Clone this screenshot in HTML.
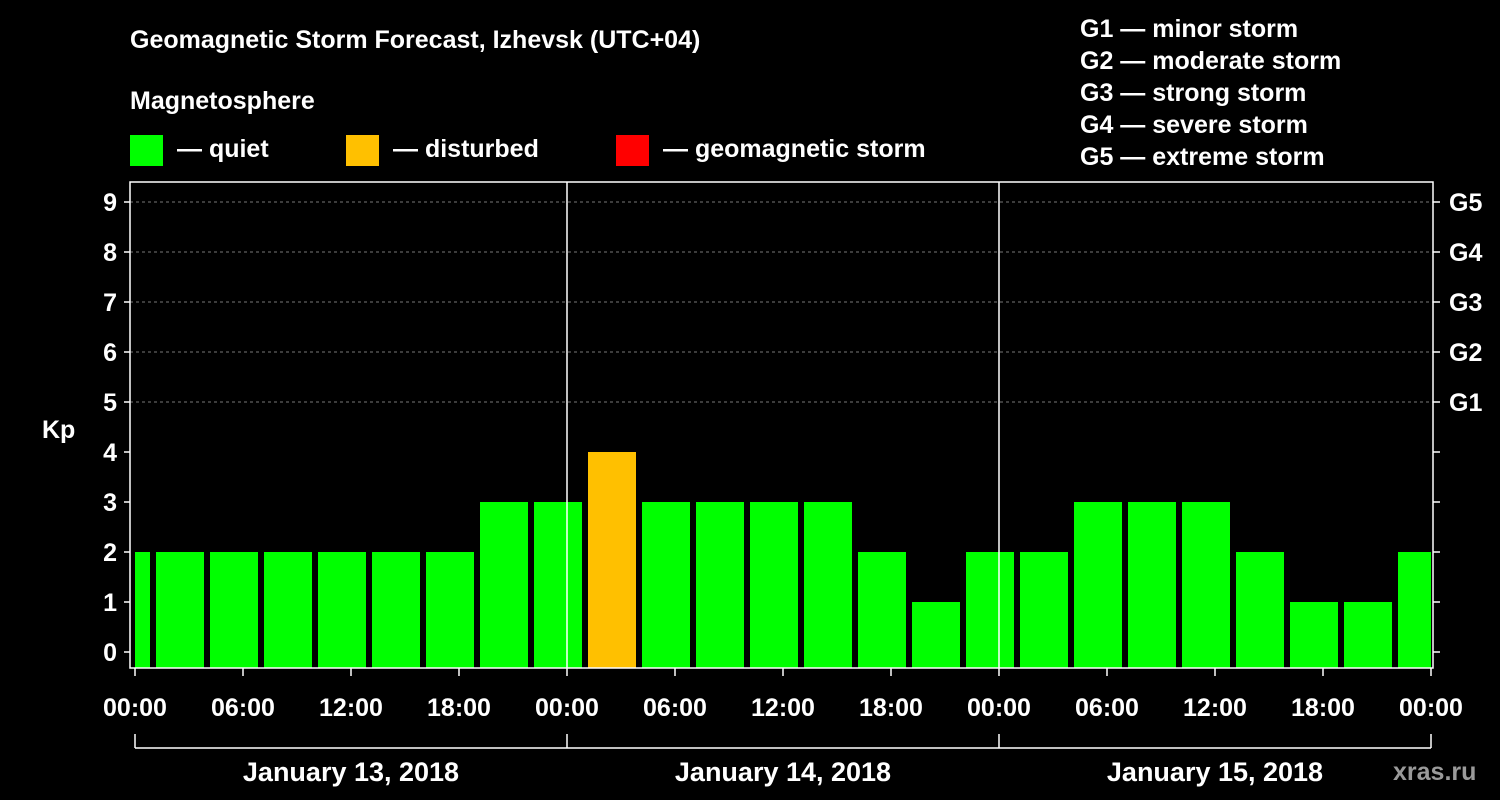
<!DOCTYPE html>
<html><head><meta charset="utf-8"><style>
body{margin:0;background:#000;width:1500px;height:800px;overflow:hidden}
svg{display:block;font-family:"Liberation Sans",Arial,sans-serif;font-weight:bold;fill:#fff}
</style></head><body>
<svg id="c" width="1500" height="800" viewBox="0 0 1500 800">
<text x="130" y="48" font-size="25">Geomagnetic Storm Forecast, Izhevsk (UTC+04)</text>
<text x="130" y="109" font-size="25">Magnetosphere</text>
<rect x="130" y="135" width="33" height="31" fill="#00ff00"/>
<text x="177" y="157" font-size="25">— quiet</text>
<rect x="346" y="135" width="33" height="31" fill="#ffc000"/>
<text x="393" y="157" font-size="25">— disturbed</text>
<rect x="616" y="135" width="33" height="31" fill="#ff0000"/>
<text x="663" y="157" font-size="25">— geomagnetic storm</text>
<g font-size="25">
<text x="1080" y="37">G1 — minor storm</text>
<text x="1080" y="69">G2 — moderate storm</text>
<text x="1080" y="101">G3 — strong storm</text>
<text x="1080" y="133">G4 — severe storm</text>
<text x="1080" y="165">G5 — extreme storm</text>
</g>
<text x="42" y="438" font-size="25">Kp</text>
<text x="1393" y="780" font-size="25" fill="#9a9a9a" style="fill:#9a9a9a">xras.ru</text>
<g id="grid"></g><g id="bars"></g><g id="axes"></g>
</svg>
<script>
const barStartHours=[-2,1,4,7,10,13,16,19,22,25,28,31,34,37,40,43,46,49,52,55,58,61,64,67,70];
const kpValues=[2,2,2,2,2,2,2,3,3,4,3,3,3,3,2,1,2,2,3,3,3,2,1,1,2];
const dayLabels=["January 13, 2018","January 14, 2018","January 15, 2018"];
const gLabels=["G1","G2","G3","G4","G5"];
const timeLabels=["00:00","06:00","12:00","18:00"];
const NS="http://www.w3.org/2000/svg";
const X0=135,PXH=18,HMAX=72;
const x=h=>X0+h*PXH;
const y=v=>652-50*v;
const L=130,R=1433,T=182,B=668;
function mk(tag,attrs,parent,txt){const e=document.createElementNS(NS,tag);for(const k in attrs)e.setAttribute(k,attrs[k]);if(txt!==undefined)e.textContent=txt;parent.appendChild(e);return e;}
const grid=document.getElementById('grid'),bars=document.getElementById('bars'),axes=document.getElementById('axes');
for(let v=5;v<=9;v++){
  const l=mk('line',{x1:L,x2:R,y1:y(v),y2:y(v),stroke:'#777','stroke-dasharray':'3,3','stroke-width':1},grid);
  
  
}
barStartHours.forEach((h,i)=>{
  const v=kpValues[i];
  let x1=Math.max(x(h)+3,X0),x2=Math.min(x(h+3)-3,x(HMAX));
  const r=mk('rect',{x:x1,y:y(v),width:x2-x1,height:B-y(v),fill:v>=5?'#ff0000':(v>=4?'#ffc000':'#00ff00')},bars);
  
  
});
const fr=mk('rect',{x:L,y:T,width:R-L,height:B-T,fill:'none',stroke:'#fff','stroke-width':1.5},axes);


for(let d=1;d<3;d++){
  const l=mk('line',{x1:x(d*24),x2:x(d*24),y1:T,y2:B,stroke:'#fff','stroke-width':1.5},axes);
  
  
}
for(let v=0;v<=9;v++){
  mk('line',{x1:L-6,x2:L,y1:y(v),y2:y(v),stroke:'#fff','stroke-width':1.5},axes);
  mk('line',{x1:R,x2:R+7,y1:y(v),y2:y(v),stroke:'#fff','stroke-width':1.5},axes);
  const t=mk('text',{x:117,y:y(v)+9,'font-size':25,'text-anchor':'end'},axes,String(v));
  
  
}
gLabels.forEach((g,i)=>{
  const t=mk('text',{x:1449,y:y(5+i)+9,'font-size':25},axes,g);
  
  
});
for(let h=0;h<=HMAX;h+=6){
  mk('line',{x1:x(h),x2:x(h),y1:B,y2:B+8,stroke:'#fff','stroke-width':1.5},axes);
  const t=mk('text',{x:x(h),y:716,'font-size':25,'text-anchor':'middle'},axes,timeLabels[(h/6)%4]);
  
  
}
const bl=mk('line',{x1:x(0),x2:x(HMAX),y1:748,y2:748,stroke:'#fff','stroke-width':1.5},axes);


for(let d=0;d<=3;d++) mk('line',{x1:x(d*24),x2:x(d*24),y1:734,y2:748,stroke:'#fff','stroke-width':1.5},axes);
dayLabels.forEach((s,d)=>{
  const t=mk('text',{x:x(d*24+12),y:781,'font-size':27,'text-anchor':'middle'},axes,s);
  
  
});
</script>
</body></html>
